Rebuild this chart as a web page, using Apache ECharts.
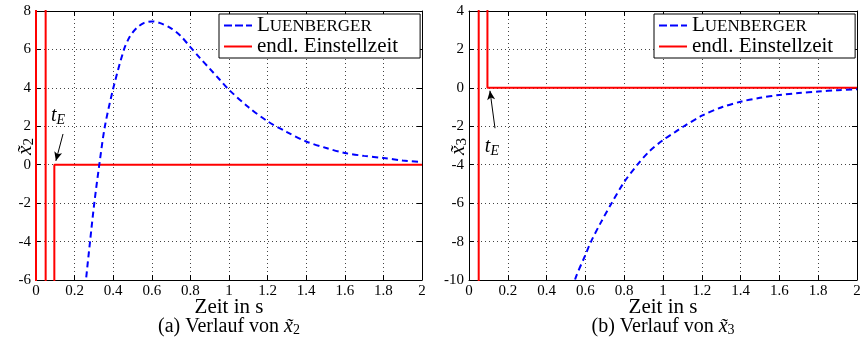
<!DOCTYPE html>
<html><head><meta charset="utf-8">
<script src="https://cdn.jsdelivr.net/npm/echarts@6/dist/echarts.min.js"></script>
<style>html,body{margin:0;padding:0;background:#fff}#c{width:866px;height:344px}</style>
</head><body><div id="c"></div>
<script>
// ---- data (a): x2 ----
const tLuenA = [0.22, 0.24, 0.259, 0.28, 0.302, 0.328, 0.357, 0.401, 0.456, 0.487, 0.522, 0.56, 0.60, 0.64, 0.70, 0.75, 0.80, 0.85, 0.90, 0.95, 1.00, 1.10, 1.20, 1.30, 1.40, 1.50, 1.60, 1.70, 1.80, 1.90, 2.00];
const vLuenA = [-10, -8.1, -6, -4, -2, 0, 2, 4, 6, 6.68, 7.12, 7.38, 7.46, 7.38, 7.1, 6.7, 6.12, 5.55, 5.0, 4.45, 3.9, 3.0, 2.26, 1.7, 1.21, 0.88, 0.61, 0.46, 0.35, 0.22, 0.14];
const tStepA = [0, 0, 0.05, 0.05, 0.095, 0.095, 2];
const vStepA = [-40, 40, 40, -40, -40, 0, 0];
// ---- data (b): x3 ----
const tLuenB = [0.50, 0.546, 0.60, 0.629, 0.68, 0.735, 0.80, 0.868, 0.93, 1.00, 1.062, 1.10, 1.20, 1.30, 1.40, 1.50, 1.60, 1.70, 1.80, 1.90, 2.00];
const vLuenB = [-12, -10, -8.7, -8, -7, -6, -4.9, -4, -3.3, -2.72, -2.3, -2.05, -1.45, -1.02, -0.72, -0.52, -0.37, -0.27, -0.19, -0.12, -0.07];
const tStepB = [0, 0.05, 0.05, 0.095, 0.095, 2];
const vStepB = [-40, -40, 40, 40, 0, 0];
// axis ranges
const xRange = [0, 2, 0.2];
const yRangeA = [-6, 8, 2];
const yRangeB = [-10, 4, 2];
// annotations (data coords)
const tEA = { text: [0.114, 2.55], from: [0.14, 1.6], to: [0.103, 0.2] };
const tEB = { text: [0.118, -3.05], from: [0.134, -2.1], to: [0.108, -0.15] };

const zip = (a, b) => a.map((v, i) => [v, b[i]]);
const FONT = 'Liberation Serif';
const chart = echarts.init(document.getElementById('c'));

const grids = [
  { left: 36, top: 11, width: 386, height: 269 },
  { left: 469, top: 11, width: 388, height: 269 }
];
function xAxes(gi) {
  const base = {
    gridIndex: gi, type: 'value', min: xRange[0], max: xRange[1], interval: xRange[2],
    axisLine: { show: true, onZero: false, lineStyle: { color: '#000', width: 1 } },
    axisTick: { show: true, inside: true, length: 5, lineStyle: { color: '#000' } },
  };
  return [
    Object.assign({}, base, {
      position: 'bottom',
      axisLabel: { color: '#000', fontFamily: FONT, fontSize: 15, margin: 4,
        formatter: v => String(+v.toFixed(1)) },
      splitLine: { show: true, lineStyle: { color: '#444', type: [1, 3], width: 1 } },
      name: 'Zeit in s', nameLocation: 'middle', nameGap: 17, nameMoveOverlap: false,
      nameTextStyle: { color: '#000', fontFamily: FONT, fontSize: 21 }
    }),
    Object.assign({}, base, { position: 'top', axisLabel: { show: false }, splitLine: { show: false } })
  ];
}
function yAxes(gi, r, sub) {
  const base = {
    gridIndex: gi, type: 'value', min: r[0], max: r[1], interval: r[2],
    axisLine: { show: true, onZero: false, lineStyle: { color: '#000', width: 1 } },
    axisTick: { show: true, inside: true, length: 5, lineStyle: { color: '#000' } },
  };
  return [
    Object.assign({}, base, {
      position: 'left',
      axisLabel: { color: '#000', fontFamily: FONT, fontSize: 15, margin: 5 },
      splitLine: { show: true, lineStyle: { color: '#444', type: [1, 3], width: 1 } },
      name: '{i|x\u0303}{s|' + sub + '}', nameLocation: 'middle', nameGap: -1, nameRotate: 90,
      nameMoveOverlap: false,
      nameTextStyle: { color: '#000', padding: [0, 2, 0, 0], rich: {
        i: { fontFamily: FONT, fontStyle: 'italic', fontSize: 21, color: '#000' },
        s: { fontFamily: FONT, fontSize: 15, color: '#000', padding: [8, 0, 0, 0] } } }
    }),
    Object.assign({}, base, { position: 'right', axisLabel: { show: false }, splitLine: { show: false } })
  ];
}
function tEmarks(a) {
  return {
    markLine: {
      silent: true, symbol: ['none', 'arrow'], symbolSize: [6, 9],
      lineStyle: { color: '#000', width: 1, type: 'solid' }, label: { show: false },
      data: [[{ coord: a.from }, { coord: a.to }]]
    },
    markPoint: {
      silent: true, symbol: 'circle', symbolSize: 0,
      data: [{ coord: a.text }],
      label: { show: true, position: 'inside', formatter: '{i|t}{s|E}', rich: {
        i: { fontFamily: FONT, fontStyle: 'italic', fontSize: 20, color: '#000' },
        s: { fontFamily: FONT, fontStyle: 'italic', fontSize: 14, color: '#000', padding: [10, 0, 0, 0] } } }
    }
  };
}
function series(gi, tl, vl, ts, vs, ann) {
  return [
    { name: 'Luenberger', type: 'line', xAxisIndex: gi * 2, yAxisIndex: gi * 2, data: zip(tl, vl),
      showSymbol: false, symbol: 'none', clip: true, z: 3, smooth: 0.3,
      lineStyle: { color: '#0000ff', width: 2, type: [6, 4] }, itemStyle: { color: '#0000ff' } },
    Object.assign({ name: 'endl. Einstellzeit', type: 'line', xAxisIndex: gi * 2, yAxisIndex: gi * 2, data: zip(ts, vs),
      showSymbol: false, symbol: 'none', clip: true, z: 2,
      lineStyle: { color: '#ff0000', width: 2 }, itemStyle: { color: '#ff0000' } }, tEmarks(ann))
  ];
}
function legend(left) {
  return {
    left: left, top: 14, width: 200, orient: 'vertical', itemGap: 0, itemWidth: 28, itemHeight: 14,
    padding: [1, 22, 1, 5], backgroundColor: '#fff', borderColor: '#000', borderWidth: 1,
    data: [{ name: 'Luenberger', icon: 'path://M0,6h8v2h-8z M11,6h8v2h-8z M22,6h6v2h-6z' },
           { name: 'endl. Einstellzeit', icon: 'path://M0,6h28v2h-28z' }],
    formatter: n => n === 'Luenberger' ? '{b|L}{c|UENBERGER}' : '{b|endl. Einstellzeit}',
    textStyle: { rich: {
      b: { fontFamily: FONT, fontSize: 21, lineHeight: 18, color: '#000' },
      c: { fontFamily: FONT, fontSize: 17, lineHeight: 18, color: '#000', padding: [2, 0, 0, 0] } } },
    selectedMode: false
  };
}
const capRich = {
  n: { fontFamily: FONT, fontSize: 20, fontWeight: 'normal', color: '#000' },
  i: { fontFamily: FONT, fontStyle: 'italic', fontWeight: 'normal', fontSize: 20, color: '#000' },
  s: { fontFamily: FONT, fontSize: 14, fontWeight: 'normal', color: '#000', padding: [7, 0, 0, 0] }
};
chart.setOption({
  animation: false,
  textStyle: { fontFamily: FONT },
  grid: grids.map(g => Object.assign({ show: false, containLabel: false, outerBoundsMode: 'none' }, g)),
  xAxis: [...xAxes(0), ...xAxes(1)],
  yAxis: [...yAxes(0, yRangeA, '2'), ...yAxes(1, yRangeB, '3')],
  legend: [legend(219), legend(654)],
  title: [
    { text: '{n|(a) Verlauf von }{i|x\u0303}{s|2}', left: 229, top: 316, textAlign: 'center', padding: 0, textStyle: { fontWeight: 'normal', rich: capRich } },
    { text: '{n|(b) Verlauf von }{i|x\u0303}{s|3}', left: 663, top: 316, textAlign: 'center', padding: 0, textStyle: { fontWeight: 'normal', rich: capRich } }
  ],
  series: [...series(0, tLuenA, vLuenA, tStepA, vStepA, tEA), ...series(1, tLuenB, vLuenB, tStepB, vStepB, tEB)]
});
</script></body></html>
